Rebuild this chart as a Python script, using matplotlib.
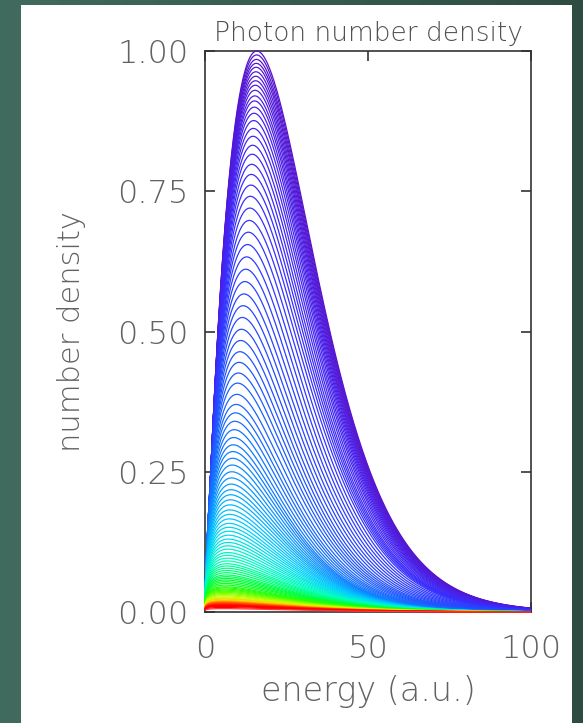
import numpy as np
import matplotlib
matplotlib.use("Agg")
import matplotlib.pyplot as plt
from matplotlib.colors import LinearSegmentedColormap
from matplotlib.patches import Rectangle

# Peak heights of the successive spectra (normalised to the final one)
peak_heights = [
    1.000, 0.993, 0.985, 0.978, 0.971, 0.963, 0.955, 0.947, 0.939, 0.930,
    0.920, 0.911, 0.900, 0.889, 0.876, 0.862, 0.848, 0.832, 0.816, 0.798,
    0.780, 0.761, 0.741, 0.720, 0.698, 0.677, 0.655, 0.633, 0.611, 0.589,
    0.567, 0.546, 0.525, 0.504, 0.484, 0.464, 0.445, 0.426, 0.408, 0.388,
    0.370, 0.355, 0.340, 0.325, 0.311, 0.298, 0.286, 0.274, 0.262, 0.250,
    0.239, 0.228, 0.218, 0.209, 0.200, 0.191, 0.182, 0.174, 0.166, 0.158,
    0.151, 0.144, 0.137, 0.130, 0.124, 0.118, 0.112, 0.106, 0.101, 0.096,
    0.091, 0.086, 0.082, 0.078, 0.074, 0.070, 0.066, 0.063, 0.060, 0.057,
    0.054, 0.051, 0.048, 0.045, 0.043, 0.041, 0.039, 0.037, 0.035, 0.033,
    0.031, 0.029, 0.027, 0.025, 0.024, 0.023, 0.021, 0.020, 0.019, 0.018,
    0.017, 0.016, 0.015, 0.014, 0.013, 0.012, 0.011, 0.010, 0.008, 0.006,
    0.004,
]
# Where the spectra peak (energy, a.u.) as a function of their height
peak_height_ref = [0.004, 0.010, 0.075, 0.300, 0.700, 1.000]
peak_energy_ref = [5.5, 5.5, 6.7, 8.7, 13.6, 15.9]
# Low-energy slope index of the spectra (2 = black body) versus height
slope_height_ref = [0.004, 0.010, 0.075, 0.200, 0.300, 0.500, 0.800, 1.000]
slope_index_ref = [1.20, 1.20, 1.30, 1.42, 1.52, 1.70, 1.91, 2.00]

x_ticks = [0, 50, 100]
y_ticks = [0.00, 0.25, 0.50, 0.75, 1.00]
y_ticklabels = ["0.00", "0.25", "0.50", "0.75", "1.00"]

title_text = "Photon number density"
x_label = "energy (a.u.)"
y_label = "number density"

TEXT = "#505050"
LABEL = "#626262"
plt.rcParams["font.weight"] = "light"
plt.rcParams["axes.titleweight"] = "light"
plt.rcParams["axes.labelweight"] = "light"

W, H = 583, 723
fig = plt.figure(figsize=(W / 100, H / 100), dpi=100)

# dark green backdrop with a soft horizontal gradient
bg = fig.add_axes([0, 0, 1, 1], zorder=-10)
grad = np.linspace(0, 1, 256)[None, :, None]
c0 = np.array([0.25, 0.42, 0.37])
c1 = np.array([0.18, 0.30, 0.25])
bg.imshow(c0 + (c1 - c0) * grad, aspect="auto", extent=[0, 1, 0, 1])
bg.set_axis_off()

# white slide panel
fig.add_artist(Rectangle((21 / W, 0), (572 - 21) / W, (H - 5) / H,
                         transform=fig.transFigure, facecolor="white",
                         edgecolor="none", zorder=-5))

ax = fig.add_axes([205 / W, 111 / H, 326 / W, 561 / H])
ax.set_facecolor("none")

rainbow = LinearSegmentedColormap.from_list("rainbow_white", [
    (0.00, (0.34, 0.08, 0.80)),
    (0.09, (0.30, 0.12, 0.90)),
    (0.20, (0.22, 0.18, 1.00)),
    (0.30, (0.14, 0.30, 1.00)),
    (0.42, (0.06, 0.50, 1.00)),
    (0.53, (0.00, 0.80, 1.00)),
    (0.63, (0.00, 1.00, 0.75)),
    (0.72, (0.00, 1.00, 0.20)),
    (0.78, (0.20, 1.00, 0.00)),
    (0.84, (0.80, 1.00, 0.00)),
    (0.88, (1.00, 0.80, 0.00)),
    (0.92, (1.00, 0.30, 0.00)),
    (0.96, (1.00, 0.00, 0.00)),
    (0.99, (1.00, 0.00, 0.00)),
    (1.00, (1.00, 1.00, 1.00)),
])


def spectrum(energy, height, e_peak, index):
    """Planck-like number spectrum x^index / (e^x - 1) scaled to its peak."""
    xs = np.linspace(1e-3, 10, 20001)
    shape = xs ** index / np.expm1(xs)
    x_peak = xs[np.argmax(shape)]
    theta = e_peak / x_peak
    x = energy / theta
    return height * (x ** index / np.expm1(x)) / shape.max()


energy = np.linspace(0.02, 100, 1000)
heights = np.asarray(peak_heights)
e_peaks = np.interp(heights, peak_height_ref, peak_energy_ref)
indices = np.interp(heights, slope_height_ref, slope_index_ref)
n = len(heights)
for k in range(n):
    dens = spectrum(energy, heights[k], e_peaks[k], indices[k])
    last = k == n - 1
    ax.plot(energy, dens, color=rainbow(k / (n - 1)), lw=0.9,
            clip_on=False, zorder=2.0 if last else 3,
            solid_capstyle="butt")

ax.set_xlim(0, 100)
ax.set_ylim(0, 1.0)
ax.set_xticks(x_ticks)
ax.set_yticks(y_ticks)
ax.set_yticklabels(y_ticklabels)
ax.tick_params(direction="in", length=7, width=1.2, color="#333333",
               top=True, right=True, labelsize=23, labelcolor=LABEL)
ax.tick_params(axis="y", pad=12)
ax.tick_params(axis="x", pad=16)
for s in ax.spines.values():
    s.set_linewidth(1.2)
    s.set_color("#333333")

ax.set_title(title_text, fontsize=19, color=TEXT, pad=7, fontweight="light")
ax.set_xlabel(x_label, fontsize=24, color=LABEL, labelpad=8,
              fontweight="light")
ax.set_ylabel(y_label, fontsize=22, color=LABEL, labelpad=22,
              fontweight="light")

fig.savefig("out.png", dpi=100)
